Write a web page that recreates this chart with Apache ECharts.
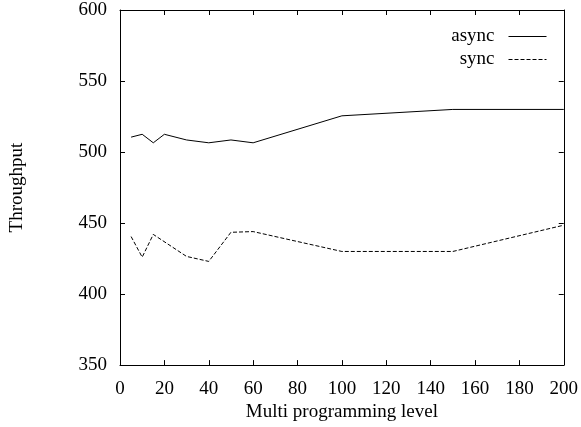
<!DOCTYPE html>
<html>
<head>
<meta charset="utf-8">
<script src="https://cdn.jsdelivr.net/npm/echarts@6/dist/echarts.min.js"></script>
<style>
  html, body { margin: 0; padding: 0; background: #fff; }
  #chart { width: 581px; height: 427px; }
</style>
</head>
<body>
<div id="chart"></div>
<script>
// values
var asyncX = [5, 10, 15, 20, 30, 40, 50, 60, 100, 150, 200];
var asyncY = [510.5, 512.5, 506.5, 512.5, 508.5, 506.5, 508.5, 506.5, 525.5, 530, 530];
var syncX = [5, 10, 15, 30, 40, 50, 60, 100, 150, 200];
var syncY = [440.5, 426, 442, 426.5, 423, 443.5, 444, 430, 430, 448.5];
var xTicks = [0, 200, 20];   // min, max, step
var yTicks = [350, 600, 50];

function pairs(xs, ys) {
  return xs.map(function (x, i) { return [x, ys[i]]; });
}

var font = 'Liberation Serif';
var fs = 19;
var chart = echarts.init(document.getElementById('chart'));

var baseAxis = {
  type: 'value',
  axisLine: { show: true, onZero: false, lineStyle: { color: '#000', width: 1 } },
  axisTick: { show: true, inside: true, length: 5, lineStyle: { color: '#000' } },
  splitLine: { show: false },
  axisLabel: { color: '#000', fontFamily: font, fontSize: fs }
};

var option = {
  backgroundColor: '#fff',
  animation: false,
  grid: { left: 117, right: 15, top: 10, bottom: 58 },
  legend: {
    orient: 'vertical',
    right: 29,
    top: 22,
    align: 'right',
    itemWidth: 38,
    itemHeight: 16,
    itemGap: 4,
    itemStyle: { opacity: 0 },
    lineStyle: { width: 1 },
    textStyle: { color: '#000', fontFamily: font, fontSize: fs, padding: [0, 9, 0, 0] },
    data: ['async', 'sync']
  },
  xAxis: [
    Object.assign({}, baseAxis, {
      min: xTicks[0], max: xTicks[1], interval: xTicks[2],
      name: 'Multi programming level',
      nameLocation: 'middle',
      nameGap: 31,
      nameTextStyle: { color: '#000', fontFamily: font, fontSize: fs },
      axisLabel: Object.assign({}, baseAxis.axisLabel, { margin: 14 })
    }),
    Object.assign({}, baseAxis, {
      position: 'top',
      min: xTicks[0], max: xTicks[1], interval: xTicks[2],
      axisLabel: { show: false }
    })
  ],
  yAxis: [
    Object.assign({}, baseAxis, {
      min: yTicks[0], max: yTicks[1], interval: yTicks[2],
      name: 'Throughput',
      nameLocation: 'middle',
      nameGap: 93,
      nameTextStyle: { color: '#000', fontFamily: font, fontSize: fs },
      axisLabel: Object.assign({}, baseAxis.axisLabel, { margin: 13 })
    }),
    Object.assign({}, baseAxis, {
      position: 'right',
      min: yTicks[0], max: yTicks[1], interval: yTicks[2],
      axisLabel: { show: false }
    })
  ],
  series: [
    {
      name: 'async',
      type: 'line',
      data: pairs(asyncX, asyncY),
      symbol: 'none',
      lineStyle: { color: '#000', width: 1 },
      itemStyle: { color: '#000' }
    },
    {
      name: 'sync',
      type: 'line',
      data: pairs(syncX, syncY),
      symbol: 'none',
      lineStyle: { color: '#000', width: 1, type: [4, 2] },
      itemStyle: { color: '#000' }
    }
  ]
};

chart.setOption(option);
</script>
</body>
</html>
